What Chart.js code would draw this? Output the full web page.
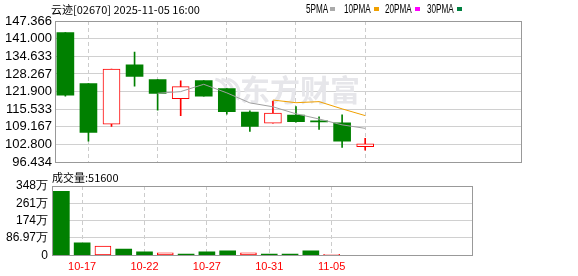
<!DOCTYPE html>
<html>
<head>
<meta charset="utf-8">
<script src="https://cdn.jsdelivr.net/npm/chart.js@4.4.1/dist/chart.umd.min.js"></script>
<style>
    body { margin: 0; width: 578px; height: 276px; position: relative; background: #fff; overflow: hidden; font-family: "Liberation Sans", Arial, sans-serif; }
    .box { position: absolute; left: 0; width: 578px; }
    .txt { position: absolute; white-space: nowrap; color: #000; font-size: 11px; font-family: "Noto Sans CJK SC", sans-serif; line-height: 14px; }
    .lg { position: absolute; top: 2px; font: 12px "Liberation Sans", sans-serif; line-height: 14px; white-space: nowrap; transform: scaleX(0.68); transform-origin: 0 0; }
    .sq { position: absolute; top: 7px; width: 5px; height: 4px; }
</style>
</head>
<body>
<div class="box" style="top:0;height:173px"><canvas id="kChart"></canvas></div>
<div class="box" style="top:170px;height:106px"><canvas id="volChart"></canvas></div>
<div class="txt" style="left:51px;top:2px">云迹[02670] 2025-11-05 16:00</div>
<div class="lg" style="left:306px">5PMA</div><div class="sq" style="left:330px;background:#aaaaaa"></div>
<div class="lg" style="left:344px">10PMA</div><div class="sq" style="left:374px;background:#f0a000"></div>
<div class="lg" style="left:385px">20PMA</div><div class="sq" style="left:415px;background:#ff00ff"></div>
<div class="lg" style="left:427px">30PMA</div><div class="sq" style="left:457px;background:#008040"></div>
<div class="txt" style="left:52px;top:170px">成交量:51600</div>
<script>
// trading days
const dates = ['10-16', '10-17', '10-20', '10-21', '10-22', '10-23', '10-24',
               '10-27', '10-28', '10-30', '10-31', '11-03', '11-04', '11-05'];
const labelDays = ['10-17', '10-22', '10-27', '10-31', '11-05'];

// candles
const openP  = [143.22, 124.79, 110.15, 131.52, 126.21, 119.37, 125.85, 123.02, 114.51, 110.50, 113.45, 111.14, 110.62, 102.00];
const closeP = [120.64, 107.17, 130.00, 127.38, 121.24, 123.72, 120.29, 114.62, 109.30, 114.16, 111.07, 110.97, 103.98, 103.06];
const highP  = [143.22, 124.79, 130.00, 136.13, 126.21, 125.75, 125.85, 123.02, 114.97, 118.52, 116.53, 112.84, 113.55, 105.05];
const lowP   = [120.29, 103.98, 109.30, 123.83, 115.22, 113.20, 120.29, 113.80, 107.53, 110.50, 110.86, 108.24, 101.75, 100.80];

// moving averages
const ma5  = [null, null, null, null, 121.29, 121.90, 124.53, 121.45, 117.83, 116.42, 113.89, 112.02, 109.90, 108.65];
const ma10 = [null, null, null, null, null, null, null, null, null, 118.85, 117.90, 118.28, 115.67, 113.24];

// volume, in 万
const volume = [321, 63, 46.5, 31.5, 18, 13, 6.5, 18, 23, 13, 6.5, 6.5, 23, 5.16];

// axis ticks
const priceTicks = [96.434, 102.800, 109.167, 115.533, 121.900, 128.267, 134.633, 141.000, 147.366];
const volTicks = [0, 86.97, 173.94, 260.91, 347.88];
const volTickLabels = ['0', '86.97万', '174万', '261万', '348万'];

const RED = '#ff0000';
const GREEN = '#008000';
const GRID = '#d0d0d0';
const isUp = i => closeP[i] >= openP[i];
const labelIdx = labelDays.map(d => dates.indexOf(d));

const frame = {
    id: 'frame',
    afterDraw(chart) {
        const { ctx, chartArea: a } = chart;
        ctx.save();
        ctx.strokeStyle = '#999';
        ctx.lineWidth = 1;
        ctx.strokeRect(Math.round(a.left) + 0.5, Math.round(a.top) + 0.5,
            Math.round(a.right - a.left) - 1, Math.round(a.bottom - a.top));
        ctx.restore();
    }
};

const watermark = {
    id: 'watermark',
    beforeDatasetsDraw(chart) {
        const { ctx, chartArea: a } = chart;
        ctx.save();
        ctx.fillStyle = '#e6e6ea';
        ctx.strokeStyle = '#e6e6ea';
        ctx.font = 'bold 30px "Noto Sans CJK SC"';
        ctx.textBaseline = 'alphabetic';
        ctx.fillText('东方财富', a.left + 185, a.top + 80);
        // rough logo swoosh
        ctx.lineWidth = 3;
        for (let k = 0; k < 3; k++) {
            ctx.beginPath();
            ctx.arc(a.left + 158 + k * 6, a.top + 72, 14, -1.4, 0.5);
            ctx.stroke();
        }
        ctx.restore();
    }
};

function xAxis(showLabels) {
    return {
        type: 'linear',
        offset: false,
        min: -0.45,
        max: 19.8,
        afterBuildTicks: s => { s.ticks = labelIdx.map(v => ({ value: v })); },
        afterFit: s => { s.height = showLabels ? 20.7 : 0; },
        grid: { color: '#cccccc', drawTicks: false, offset: false },
        border: { display: false, dash: [4, 3] },
        ticks: {
            display: showLabels,
            autoSkip: false,
            maxRotation: 0,
            padding: 5,
            color: RED,
            font: { size: 11, family: '"Liberation Sans", Arial' },
            callback: v => dates[v]
        }
    };
}

Chart.defaults.animation = false;

new Chart(document.getElementById('kChart'), {
    type: 'bar',
    data: {
        datasets: [
            {
                type: 'line',
                data: ma5.map((v, i) => ({ x: i, y: v })),
                borderColor: '#a0a0a0',
                borderWidth: 1,
                pointRadius: 0,
                order: 0
            },
            {
                type: 'line',
                data: ma10.map((v, i) => ({ x: i, y: v })),
                borderColor: '#f0a000',
                borderWidth: 1,
                pointRadius: 0,
                order: 0
            },
            {
                data: openP.map((o, i) => ({ x: i, y: [o, closeP[i]] })),
                grouped: false,
                barThickness: 17,
                minBarLength: 1,
                backgroundColor: ctx => isUp(ctx.dataIndex) ? '#ffffff' : GREEN,
                borderColor: ctx => isUp(ctx.dataIndex) ? RED : GREEN,
                borderWidth: ctx => isUp(ctx.dataIndex) ? 1 : 0,
                borderSkipped: false,
                order: 1
            },
            {
                data: lowP.map((l, i) => ({ x: i, y: [l, highP[i]] })),
                grouped: false,
                barThickness: 1,
                backgroundColor: ctx => isUp(ctx.dataIndex) ? RED : GREEN,
                borderWidth: 0,
                order: 2
            }
        ]
    },
    options: {
        responsive: true,
        maintainAspectRatio: false,
        layout: { padding: { top: 21, right: 56, bottom: 8, left: 0 } },
        plugins: { legend: { display: false }, tooltip: { enabled: false } },
        scales: {
            x: xAxis(false),
            y: {
                min: priceTicks[0],
                max: priceTicks[priceTicks.length - 1],
                afterBuildTicks: s => { s.ticks = priceTicks.map(v => ({ value: v })); },
                afterFit: s => { s.width = 55; },
                grid: { color: GRID, drawTicks: false },
                border: { display: false },
                ticks: {
                    autoSkip: false,
                    padding: 3,
                    color: '#000',
                    font: { size: 13, family: '"Liberation Sans", Arial' },
                    callback: v => v.toFixed(3)
                }
            }
        }
    },
    plugins: [frame, watermark]
});

new Chart(document.getElementById('volChart'), {
    type: 'bar',
    data: {
        datasets: [{
            data: volume.map((v, i) => ({ x: i, y: v })),
            barThickness: 16,
            backgroundColor: ctx => isUp(ctx.dataIndex) ? '#ffffff' : GREEN,
            borderColor: ctx => isUp(ctx.dataIndex) ? RED : GREEN,
            borderWidth: ctx => isUp(ctx.dataIndex) ? 1 : 0,
            borderSkipped: false
        }]
    },
    options: {
        responsive: true,
        maintainAspectRatio: false,
        layout: { padding: { top: 16, right: 105, bottom: 0, left: 0 } },
        plugins: { legend: { display: false }, tooltip: { enabled: false } },
        scales: {
            x: xAxis(true),
            y: {
                min: 0,
                max: volTicks[volTicks.length - 1],
                afterBuildTicks: s => { s.ticks = volTicks.map(v => ({ value: v })); },
                afterFit: s => { s.width = 52; },
                grid: { color: GRID, drawTicks: false },
                border: { display: false },
                ticks: {
                    autoSkip: false,
                    padding: 4,
                    color: '#000',
                    font: { size: 12, family: '"Liberation Sans", Arial' },
                    callback: (v, i) => volTickLabels[i]
                }
            }
        }
    },
    plugins: [frame]
});
</script>
</body>
</html>
